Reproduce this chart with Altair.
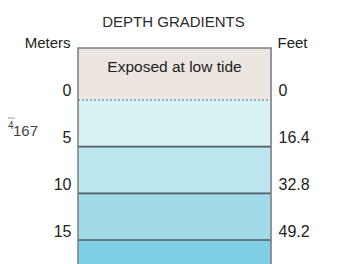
import json
import altair as alt
import pandas as pd

# ---- data ----
band_names = ["Exposed at low tide", "0-5 m", "5-10 m", "10-15 m", "Below 15 m"]
band_top = [-5.571, 0, 5, 10, 15]
band_bottom = [0, 5, 10, 15, 17.571]
band_colors = ["#ede6e0", "#d9f3f5", "#bde7ef", "#a2dbe8", "#7ecfe4"]

meter_ticks = [0, 5, 10, 15]
feet_labels = ["0", "16.4", "32.8", "49.2"]
solid_lines = [5, 10, 15]
tide_line = [0]

title_text = "DEPTH GRADIENTS"
exposed_text = band_names[0]
stray_text = ["4", "167"]

# ---- layout ----
W, H = 193, 216
FONT = "Liberation Sans"
TXT = "#222222"
domain = [band_top[0], band_bottom[-1]]
y_scale = alt.Scale(domain=domain, nice=False, zero=False, reverse=True)

bands = pd.DataFrame({"name": band_names, "top": band_top,
                      "bottom": band_bottom, "color": band_colors})

rects = alt.Chart(bands).mark_rect().encode(
    x=alt.value(0), x2=alt.value(W),
    y=alt.Y("top:Q", scale=y_scale, axis=alt.Axis(
        orient="left", values=meter_ticks, grid=False, ticks=False, domain=False,
        labelFont=FONT, labelFontSize=16, labelColor=TXT, labelPadding=7,
        labelOffset=-9, labelBaseline="middle",
        title="Meters", titleAngle=0, titleX=-8, titleY=-1, titleAlign="right",
        titleBaseline="alphabetic", titleFont=FONT, titleFontSize=15,
        titleFontWeight="normal", titleColor=TXT)),
    y2="bottom:Q",
    color=alt.Color("color:N", scale=None),
)

label_expr = "{}[indexof({}, datum.value)]".format(json.dumps(feet_labels), json.dumps(meter_ticks))

lines = alt.Chart(pd.DataFrame({"depth": solid_lines})).mark_rule(
    color="#4f5c61", strokeWidth=1.6).encode(
    x=alt.value(0), x2=alt.value(W),
    y=alt.Y("depth:Q", scale=y_scale, axis=alt.Axis(
        orient="right", values=meter_ticks, labelExpr=label_expr,
        grid=False, ticks=False, domain=False,
        labelFont=FONT, labelFontSize=16, labelColor=TXT, labelPadding=7,
        labelOffset=-9, labelBaseline="middle", labelAlign="left",
        title="Feet", titleAngle=0, titleX=6, titleY=-1, titleAlign="left",
        titleBaseline="alphabetic", titleFont=FONT, titleFontSize=15,
        titleFontWeight="normal", titleColor=TXT)),
)

tide = alt.Chart(pd.DataFrame({"depth": tide_line})).mark_rule(
    color="#6e9dc2", strokeWidth=1.6, strokeDash=[2, 2]).encode(
    x=alt.value(0), x2=alt.value(W),
    y=alt.Y("depth:Q", scale=y_scale, axis=None),
)

box = alt.Chart(pd.DataFrame({"a": [0]})).mark_rect(
    fillOpacity=0, stroke="#7e7e7e", strokeWidth=1.5).encode(
    x=alt.value(0), x2=alt.value(W), y=alt.value(0), y2=alt.value(H + 10))

exposed = alt.Chart(pd.DataFrame({"t": [exposed_text]})).mark_text(
    font=FONT, fontSize=15.5, color=TXT, baseline="middle", align="center").encode(
    text="t:N", x=alt.value(W / 2), y=alt.value(19))

title = alt.Chart(pd.DataFrame({"t": [title_text]})).mark_text(
    font=FONT, fontSize=15, color="#2a2a2a", baseline="middle", align="center").encode(
    text="t:N", x=alt.value(W / 2 - 1), y=alt.value(-26))

stray_small = alt.Chart(pd.DataFrame({"t": [stray_text[0]]})).mark_text(
    font=FONT, fontSize=10, color="#444444", baseline="middle", align="left").encode(
    text="t:N", x=alt.value(-70), y=alt.value(78))
stray_big = alt.Chart(pd.DataFrame({"t": [stray_text[1]]})).mark_text(
    font=FONT, fontSize=15, color="#444444", baseline="middle", align="left").encode(
    text="t:N", x=alt.value(-65), y=alt.value(83))
stray_rule = alt.Chart(pd.DataFrame({"a": [0]})).mark_rule(
    color="#9a9a9a", strokeWidth=1).encode(
    x=alt.value(-70), x2=alt.value(-63), y=alt.value(70))

chart = alt.layer(rects, lines, tide, box, exposed, title,
                  stray_small, stray_big, stray_rule).resolve_axis(
    y="independent").properties(
    width=W, height=H,
    autosize=alt.AutoSizeParams(type="none"),
    padding={"left": 70, "top": 40, "right": 59, "bottom": 0},
).configure_view(stroke=None).configure(background="white")

chart.save("out.html", embed_options={"renderer": "svg", "actions": False})
